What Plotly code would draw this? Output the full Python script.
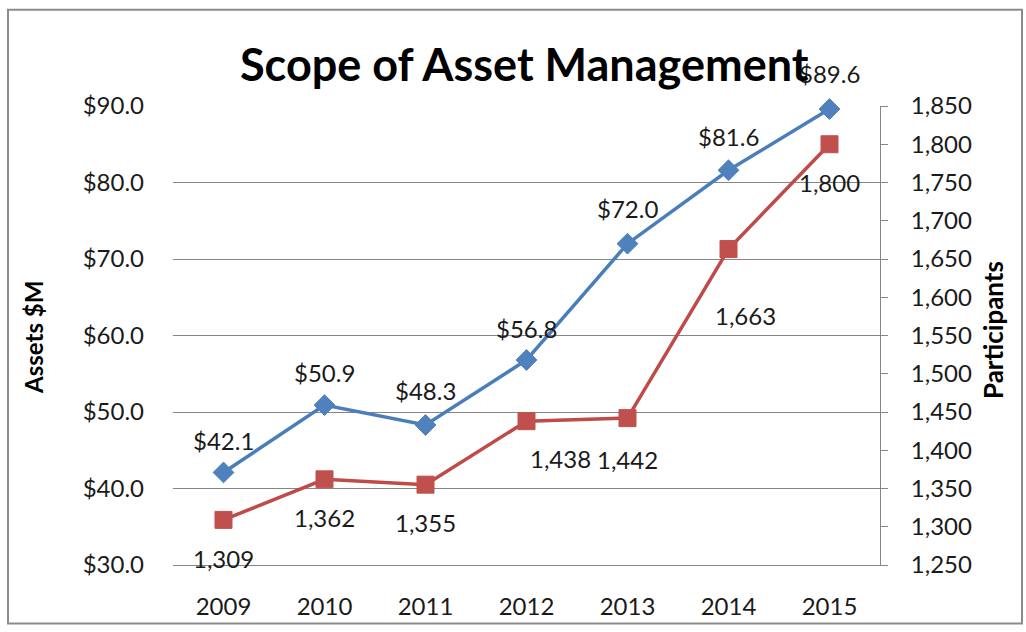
import plotly.graph_objects as go

years = ["2009", "2010", "2011", "2012", "2013", "2014", "2015"]
assets = [42.1, 50.9, 48.3, 56.8, 72.0, 81.6, 89.6]
participants = [1309, 1362, 1355, 1438, 1442, 1663, 1800]

# label offsets (pixels) - style only
asset_dy = [32, 33, 35, 31, 35, 34, 36]
part_dy = [-39, -38, -38, -37, -41, -66, -38]
part_dx = [0, 0, 0, 34, 0, 17, 0]

FONT = "Lato, Open Sans, sans-serif"
BLUE_LINE = "#4A7EBB"
BLUE_MK = "#4F81BD"
RED_LINE = "#BE4B48"
RED_MK = "#C0504D"
TXT = "#1a1a1a"

W, H = 1026, 632
L, R, T, B = 173, 146, 106, 63
pw, ph = W - L - R, H - T - B

fig = go.Figure()
fig.add_trace(go.Scatter(
    x=years, y=assets, mode="lines+markers", name="Assets",
    line=dict(color=BLUE_LINE, width=3.5),
    marker=dict(symbol="diamond", size=16, color=BLUE_MK, line=dict(color=BLUE_MK, width=1)),
    yaxis="y", cliponaxis=False))
fig.add_trace(go.Scatter(
    x=years, y=participants, mode="lines+markers", name="Participants",
    line=dict(color=RED_LINE, width=3.5),
    marker=dict(symbol="square", size=17, color=RED_MK, line=dict(color=RED_MK, width=1)),
    yaxis="y2", cliponaxis=False))

annotations = []
for i, v in enumerate(assets):
    annotations.append(dict(x=i, y=v, xref="x", yref="y", text=f"${v:.1f}",
                            showarrow=False, yshift=asset_dy[i],
                            xanchor="center", yanchor="middle",
                            font=dict(family=FONT, size=24, color=TXT)))
for i, v in enumerate(participants):
    annotations.append(dict(x=i, y=v, xref="x", yref="y2", text=f"{v:,}",
                            showarrow=False, yshift=part_dy[i], xshift=part_dx[i],
                            xanchor="center", yanchor="middle",
                            font=dict(family=FONT, size=24, color=TXT)))

annotations.append(dict(x=(524 - L) / pw, y=(H - B - 64) / ph, xref="paper", yref="paper",
                        text="<b>Scope of Asset Management</b>", showarrow=False,
                        xanchor="center", yanchor="middle",
                        font=dict(family=FONT, size=45, color="#000")))
annotations.append(dict(x=(34 - L) / pw, y=(H - B - 340) / ph, xref="paper", yref="paper",
                        text="<b>Assets $M</b>", textangle=-90, showarrow=False,
                        xanchor="center", yanchor="middle",
                        font=dict(family=FONT, size=24, color="#000")))
annotations.append(dict(x=(993 - L) / pw, y=(H - B - 332) / ph, xref="paper", yref="paper",
                        text="<b>Participants</b>", textangle=-90, showarrow=False,
                        xanchor="center", yanchor="middle",
                        font=dict(family=FONT, size=26, color="#000")))

shapes = [dict(type="rect", xref="paper", yref="paper",
               x0=(8 - L) / pw, x1=(1022 - L) / pw,
               y0=(H - B - 628) / ph, y1=(H - B - 9) / ph,
               line=dict(color="#8c8c8c", width=2), fillcolor="rgba(0,0,0,0)", layer="below")]

fig.update_layout(
    width=W, height=H,
    margin=dict(l=L, r=R, t=T, b=B, pad=0),
    paper_bgcolor="white", plot_bgcolor="white",
    showlegend=False,
    font=dict(family=FONT, size=24, color=TXT),
    xaxis=dict(type="category", range=[-0.5, 6.5], showgrid=False,
               showline=True, linecolor="#868686", linewidth=1,
               ticks="", ticklabelstandoff=20,
               tickfont=dict(family=FONT, size=24, color=TXT)),
    yaxis=dict(range=[30, 90], dtick=10, tickprefix="$", tickformat=".1f",
               showgrid=True, gridcolor="#868686", gridwidth=1,
               showline=False, zeroline=False, ticks="", ticklabelstandoff=28,
               tickfont=dict(family=FONT, size=24, color=TXT)),
    yaxis2=dict(range=[1250, 1850], dtick=50, tickformat=",", overlaying="y", side="right",
                showgrid=False, zeroline=False, showline=True, linecolor="#868686", linewidth=1,
                ticks="outside", ticklen=7, tickcolor="#868686", ticklabelstandoff=18,
                tickfont=dict(family=FONT, size=24, color=TXT)),
    annotations=annotations, shapes=shapes,
)

fig.write_html("out.html", config={"displayModeBar": False},
               post_script="document.body.style.margin='0';document.body.style.padding='0';")
